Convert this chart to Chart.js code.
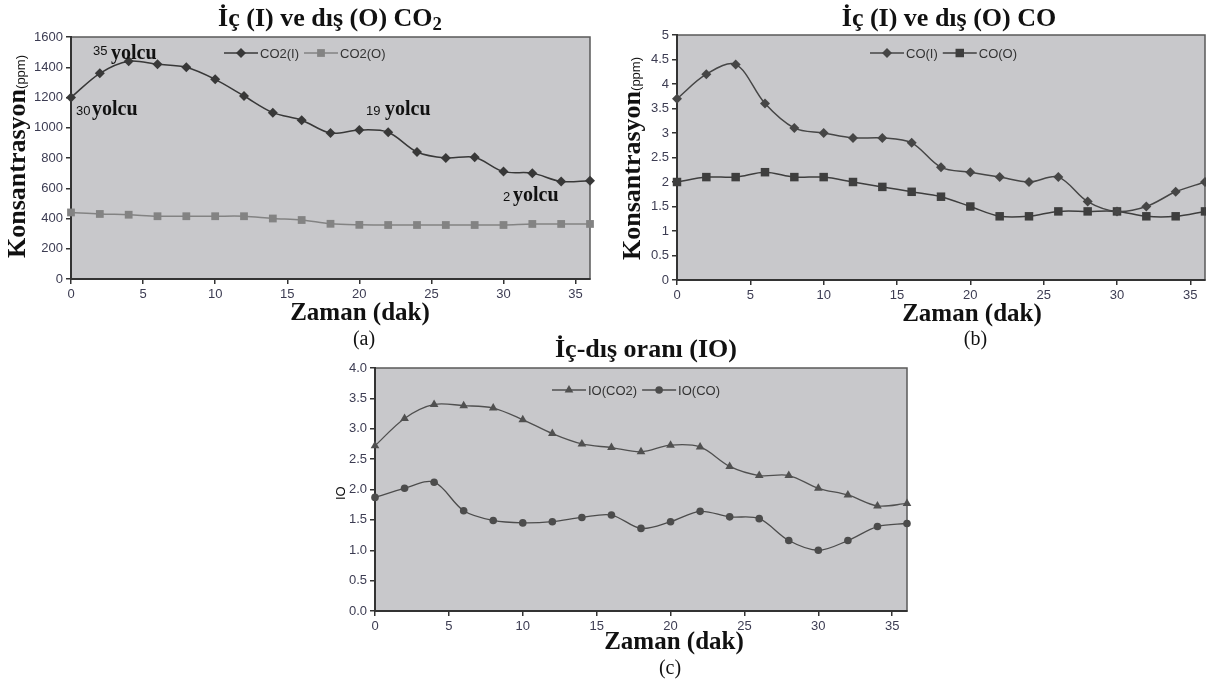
<!DOCTYPE html>
<html>
<head>
<meta charset="utf-8">
<script src="https://cdn.jsdelivr.net/npm/chart.js@4.4.1/dist/chart.umd.min.js"></script>
<style>
  html, body { margin: 0; padding: 0; background: #fff; }
  body { position: relative; width: 1206px; height: 683px; overflow: hidden; color: #111; }
  canvas { position: absolute; }
  .txt { position: absolute; white-space: nowrap; line-height: 1; }
</style>
</head>
<body>
<canvas id="chartA" width="610" height="300" style="left:0;top:0"></canvas>
<canvas id="chartB" width="596" height="300" style="left:610px;top:0"></canvas>
<canvas id="chartC" width="620" height="300" style="left:300px;top:340px"></canvas>
<script>
// ==================== DATA ====================
const minutes    = [0, 2, 4, 6, 8, 10, 12, 14, 16, 18, 20, 22, 24, 26, 28, 30, 32, 34, 36];
const co2Inside  = [1200, 1360, 1440, 1420, 1400, 1320, 1210, 1100, 1050, 965, 985, 970, 840, 800, 805, 710, 700, 645, 650];
const co2Outside = [440, 430, 425, 415, 415, 415, 415, 400, 390, 365, 358, 357, 357, 357, 357, 357, 364, 364, 364];
const coInside   = [3.7, 4.2, 4.4, 3.6, 3.1, 3.0, 2.9, 2.9, 2.8, 2.3, 2.2, 2.1, 2.0, 2.1, 1.6, 1.4, 1.5, 1.8, 2.0];
const coOutside  = [2.0, 2.1, 2.1, 2.2, 2.1, 2.1, 2.0, 1.9, 1.8, 1.7, 1.5, 1.3, 1.3, 1.4, 1.4, 1.4, 1.3, 1.3, 1.4];
const ioCo2      = [2.72, 3.17, 3.40, 3.38, 3.34, 3.15, 2.92, 2.75, 2.69, 2.62, 2.73, 2.70, 2.38, 2.23, 2.23, 2.02, 1.91, 1.73, 1.77];
const ioCo       = [1.87, 2.02, 2.12, 1.65, 1.49, 1.45, 1.47, 1.54, 1.58, 1.36, 1.47, 1.64, 1.55, 1.52, 1.16, 1.00, 1.16, 1.39, 1.44];

const SERIF = '"Liberation Serif", "Times New Roman", serif';
const SANS = '"Liberation Sans", Arial, sans-serif';
const TICK_COLOR = '#3c3c52';

const pts = vals => vals.map((v, i) => ({ x: minutes[i], y: v }));

// grey plot area + thin frame
const plotBg = {
    id: 'plotBg',
    beforeDraw(chart) {
        const { ctx, chartArea: { left, top, width, height } } = chart;
        ctx.save();
        ctx.fillStyle = '#c8c8cb';
        ctx.fillRect(left, top, width, height);
        ctx.strokeStyle = '#5a5a5a';
        ctx.lineWidth = 1.5;
        ctx.strokeRect(left, top, width, height);
        ctx.restore();
    }
};

function marker(ctx, style, r, x, y) {
    if (Chart.helpers && Chart.helpers.drawPoint) {
        Chart.helpers.drawPoint(ctx, { pointStyle: style, radius: r, rotation: 0, borderWidth: 0 }, x, y);
        return;
    }
    ctx.beginPath();
    ctx.arc(x, y, r, 0, Math.PI * 2);
    ctx.fill();
}

// legend drawn inside the plot, Excel style
const insideLegend = {
    id: 'insideLegend',
    afterDatasetsDraw(chart, args, opts) {
        const ctx = chart.ctx;
        let x = chart.chartArea.left + opts.dx;
        const y = chart.chartArea.top + opts.dy;
        ctx.save();
        ctx.font = '13px ' + SANS;
        ctx.textBaseline = 'middle';
        chart.data.datasets.forEach(ds => {
            ctx.strokeStyle = ds.borderColor;
            ctx.fillStyle = ds.borderColor;
            ctx.lineWidth = ds.borderWidth;
            ctx.beginPath();
            ctx.moveTo(x, y);
            ctx.lineTo(x + 34, y);
            ctx.stroke();
            marker(ctx, ds.pointStyle, ds.pointRadius, x + 17, y);
            ctx.fillStyle = '#333';
            ctx.fillText(ds.label, x + 36, y + 1);
            x += 36 + ctx.measureText(ds.label).width + 5;
        });
        ctx.restore();
    }
};

function line(label, vals, color, style, radius, width) {
    return {
        label: label,
        data: pts(vals),
        borderColor: color,
        backgroundColor: color,
        pointBackgroundColor: color,
        pointBorderWidth: 0,
        pointStyle: style,
        pointRadius: radius,
        pointHoverRadius: radius,
        borderWidth: width,
        tension: 0.33,
        clip: false
    };
}

function makeChart(id, datasets, y, box, legend) {
    const axisGrid = { drawOnChartArea: false, drawTicks: true, tickLength: 5, color: '#333', lineWidth: 1.5 };
    return new Chart(document.getElementById(id).getContext('2d'), {
        type: 'line',
        data: { datasets: datasets },
        options: {
            responsive: false,
            animation: false,
            devicePixelRatio: 1,
            layout: { padding: box.padding, autoPadding: false },
            plugins: {
                legend: { display: false },
                tooltip: { enabled: false },
                insideLegend: legend
            },
            scales: {
                x: {
                    type: 'linear',
                    min: 0, max: 36,
                    border: { color: '#333', width: 2 },
                    grid: axisGrid,
                    afterFit: s => { s.height = box.xHeight; s.paddingLeft = 0; s.paddingRight = 0; },
                    ticks: {
                        stepSize: 5, includeBounds: false, autoSkip: false, maxRotation: 0,
                        color: TICK_COLOR, font: { family: SANS, size: 13 }, padding: 3
                    }
                },
                y: {
                    min: y.min, max: y.max,
                    border: { color: '#333', width: 2 },
                    grid: axisGrid,
                    afterFit: s => { s.width = box.yWidth; },
                    ticks: {
                        stepSize: y.step, includeBounds: false,
                        color: TICK_COLOR, font: { family: SANS, size: 13 }, padding: 3,
                        callback: y.fmt
                    }
                }
            }
        },
        plugins: [plotBg, insideLegend]
    });
}

// (a) CO2
makeChart('chartA', [
    line('CO2(I)', co2Inside, '#383838', 'rectRot', 5, 1.5),
    line('CO2(O)', co2Outside, '#838383', 'rect', 5.5, 1.5)
], { min: 0, max: 1600, step: 200, fmt: v => String(v) },
   { padding: { left: 0, top: 37, right: 20, bottom: 0 }, yWidth: 71, xHeight: 21 },
   { dx: 153, dy: 16 });

// (b) CO
makeChart('chartB', [
    line('CO(I)', coInside, '#464646', 'rectRot', 5, 1.5),
    line('CO(O)', coOutside, '#3e3e3e', 'rect', 6, 1.5)
], { min: 0, max: 5, step: 0.5, fmt: v => String(v) },
   { padding: { left: 0, top: 35, right: 1, bottom: 0 }, yWidth: 67, xHeight: 20 },
   { dx: 193, dy: 18 });

// (c) IO ratio
makeChart('chartC', [
    line('IO(CO2)', ioCo2, '#505050', 'triangle', 5, 1.3),
    line('IO(CO)', ioCo, '#4c4c4c', 'circle', 3.8, 1.3)
], { min: 0, max: 4, step: 0.5, fmt: v => v.toFixed(1) },
   { padding: { left: 0, top: 28, right: 13, bottom: 0 }, yWidth: 75, xHeight: 29 },
   { dx: 177, dy: 22 });

// ==================== TEXT ====================
function ascent(family) { return family === SERIF ? 0.8375 : 0.8465; }

function addText(html, x, baseline, size, family, bold, center) {
    const el = document.createElement('div');
    el.className = 'txt';
    el.innerHTML = html;
    el.style.fontSize = size + 'px';
    el.style.fontFamily = family;
    el.style.fontWeight = bold ? 'bold' : 'normal';
    el.style.top = (baseline - ascent(family) * size) + 'px';
    el.style.left = x + 'px';
    if (center) el.style.transform = 'translateX(-50%)';
    document.body.appendChild(el);
}

function addRotated(html, baselineX, startY, size, family, bold) {
    const el = document.createElement('div');
    el.className = 'txt';
    el.innerHTML = html;
    el.style.fontSize = size + 'px';
    el.style.fontFamily = family;
    el.style.fontWeight = bold ? 'bold' : 'normal';
    el.style.left = (baselineX - ascent(family) * size) + 'px';
    el.style.top = startY + 'px';
    el.style.transformOrigin = '0 0';
    el.style.transform = 'rotate(-90deg)';
    document.body.appendChild(el);
}

const sub2 = '<span style="font-size:0.72em;position:relative;top:0.22em">2</span>';
const ppm = '<span style="font-family:' + SANS.replace(/"/g, "'") + ';font-weight:normal;font-size:13px">(ppm)</span>';

addText('İç (I) ve dış (O) CO' + sub2, 330, 27, 26, SERIF, true, true);
addText('İç (I) ve dış (O) CO', 949, 27, 26, SERIF, true, true);
addText('İç-dış oranı (IO)', 646, 358, 26, SERIF, true, true);

addText('Zaman (dak)', 360, 319.5, 25, SERIF, true, true);
addText('Zaman (dak)', 972, 320.5, 25, SERIF, true, true);
addText('Zaman (dak)', 674, 649, 25, SERIF, true, true);

addText('(a)', 364, 344.5, 20, SERIF, false, true);
addText('(b)', 975.5, 344.5, 20, SERIF, false, true);
addText('(c)', 670, 674, 20, SERIF, false, true);

addRotated('Konsantrasyon' + ppm, 26, 258, 26, SERIF, true);
addRotated('Konsantrasyon' + ppm, 641, 260, 26, SERIF, true);
addRotated('IO', 345, 500, 13, SANS, false);

// passenger counts in (a)
const notes = [
    { n: '35', nx: 93, nb: 55, wx: 111, wb: 58.5 },
    { n: '30', nx: 76, nb: 115, wx: 92, wb: 114.5 },
    { n: '19', nx: 366, nb: 115, wx: 385, wb: 114.5 },
    { n: '2', nx: 503, nb: 201.5, wx: 513, wb: 201 }
];
notes.forEach(a => {
    addText(a.n, a.nx, a.nb, 13, SANS, false, false);
    addText('yolcu', a.wx, a.wb, 20, SERIF, true, false);
});
</script>
</body>
</html>
